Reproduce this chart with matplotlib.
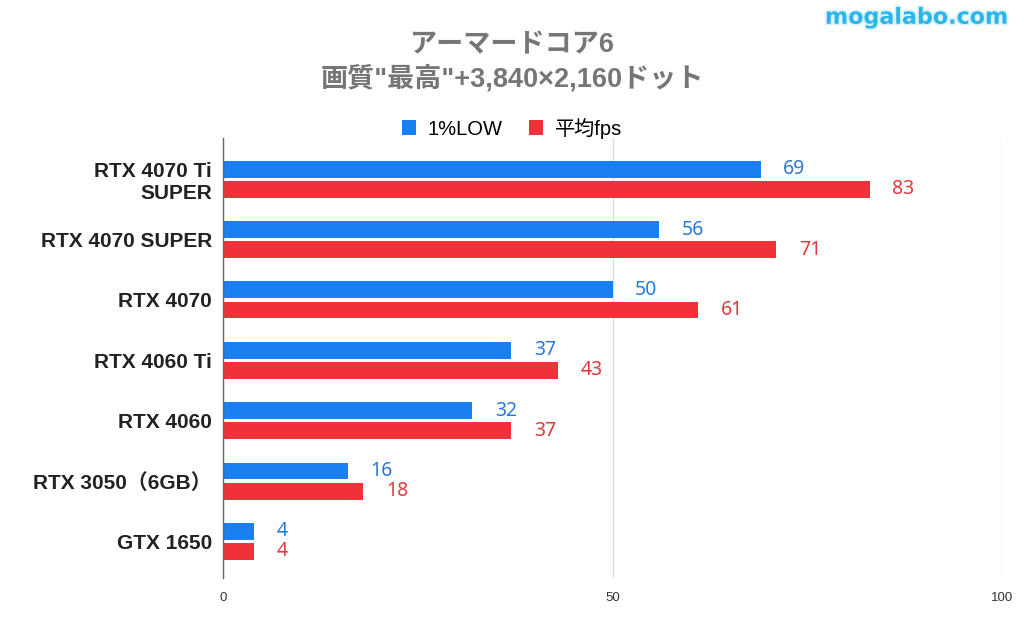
import matplotlib
matplotlib.use("Agg")
import matplotlib.pyplot as plt
import matplotlib.patheffects as pe
import numpy as np

plt.rcParams['font.family'] = ['Liberation Sans', 'Noto Sans CJK JP', 'DejaVu Sans']

categories = ['RTX 4070 Ti\nSUPER', 'RTX 4070 SUPER', 'RTX 4070', 'RTX 4060 Ti',
              'RTX 4060', 'RTX 3050（6GB）', 'GTX 1650']
low_1pct = [69, 56, 50, 37, 32, 16, 4]
avg_fps = [83, 71, 61, 43, 37, 18, 4]
series_names = ['1%LOW', '平均fps']
x_ticks = [0, 50, 100]

blue = '#1a7ff0'
red = '#f0313a'
blue_txt = '#2a78d8'
red_txt = '#e0393e'

fig = plt.figure(figsize=(10.24, 6.34), dpi=100)
ax = fig.add_axes([0.2178, 0.088, 0.7607, 0.694])

y = np.arange(len(categories))
h = 0.28
off = 0.166
ax.barh(y - off, low_1pct, height=h, color=blue, label=series_names[0], zorder=3)
ax.barh(y + off, avg_fps, height=h, color=red, label=series_names[1], zorder=3)

for yi, v in zip(y, low_1pct):
    ax.text(v + 2.9, yi - off, str(v), color=blue_txt, fontsize=14,
            va='center', ha='left', family=['Noto Sans', 'DejaVu Sans'])
for yi, v in zip(y, avg_fps):
    ax.text(v + 2.9, yi + off, str(v), color=red_txt, fontsize=14,
            va='center', ha='left', family=['Noto Sans', 'DejaVu Sans'])

ax.set_xlim(0, 100)
ax.set_ylim(6.61, -0.68)
ax.set_yticks(y)
ax.set_yticklabels(categories, fontsize=15, fontweight='bold', color='#222222',
                   linespacing=1.2)
ax.set_xticks(x_ticks)
ax.set_xticklabels([str(t) for t in x_ticks], fontsize=9.5, color='#333333')
ax.tick_params(axis='y', length=0, pad=8)
ax.tick_params(axis='x', length=0, pad=10)

ax.xaxis.grid(True, color='#dddddd', linewidth=1, zorder=0)
ax.yaxis.grid(False)
for s in ['top', 'right', 'bottom']:
    ax.spines[s].set_visible(False)
ax.spines['left'].set_color('#666666')
ax.spines['left'].set_linewidth(1)
ax.spines['left'].set_zorder(4)

fig.text(0.5, 0.902, 'アーマードコア6\n画質"最高"+3,840×2,160ドット', ha='center', va='center',
         fontsize=19.5, fontweight='bold', color='#767676', linespacing=1.3)

fig.legend(loc='center', bbox_to_anchor=(0.5, 0.798), ncol=2, frameon=False,
           fontsize=14.5, handlelength=0.7, handleheight=0.7, columnspacing=1.3,
           handletextpad=0.6)

fig.text(0.985, 0.972, 'mogalabo.com', ha='right', va='center', fontsize=16,
         fontweight='bold', color='#2bb5e8', family=['DejaVu Sans'],
         path_effects=[pe.withStroke(linewidth=2.5, foreground='#d8f2fc')])

fig.savefig('out.png', dpi=100, facecolor='white')
